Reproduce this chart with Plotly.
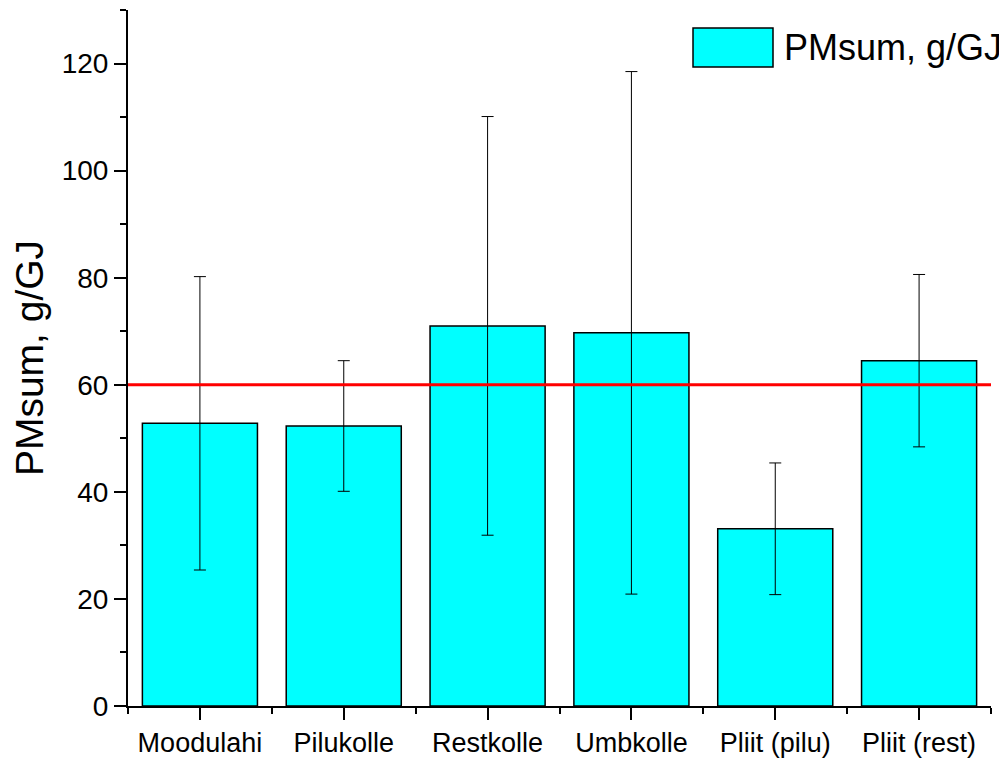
import plotly.graph_objects as go

categories = ["Moodulahi", "Pilukolle", "Restkolle", "Umbkolle", "Pliit (pilu)", "Pliit (rest)"]
pm_sum = [52.8, 52.3, 71.0, 69.7, 33.1, 64.5]
pm_err = [27.4, 12.2, 39.1, 48.8, 12.3, 16.1]
limit_value = 60
series_name = "PMsum, g/GJ"
y_ticks = [0, 20, 40, 60, 80, 100, 120]

FONT = "Arial, 'Liberation Sans', sans-serif"
x_idx = list(range(len(categories)))

fig = go.Figure()
fig.add_trace(go.Bar(
    x=x_idx, y=pm_sum, name=series_name, showlegend=False,
    marker=dict(color="#00FFFF", line=dict(color="black", width=1.5)),
    width=0.8,
    error_y=dict(type="data", array=pm_err, visible=True, color="black", thickness=1, width=6),
))

# limit line
fig.add_shape(type="line", xref="paper", x0=0, x1=1, yref="y", y0=limit_value, y1=limit_value,
              line=dict(color="#FF0000", width=3), layer="above")

# manual legend (box + text)
fig.add_shape(type="rect", xref="paper", yref="paper", x0=0.6547, x1=0.7474, y0=0.918, y1=0.974,
              fillcolor="#00FFFF", line=dict(color="black", width=1.5))
fig.add_annotation(xref="paper", yref="paper", x=0.758, y=0.946, xanchor="left", yanchor="middle",
                   text=series_name, showarrow=False, font=dict(family=FONT, size=36, color="black"))

# page body has an 8px margin, so the figure is sized to fit the window
fig.update_layout(
    width=999, height=750,
    margin=dict(l=120, r=16, t=2, b=52),
    paper_bgcolor="white", plot_bgcolor="white",
    font=dict(family=FONT, color="black"),
    bargap=0.2,
)
fig.update_xaxes(
    range=[-0.5, 5.5], tickmode="array", tickvals=x_idx, ticktext=categories,
    showline=True, linecolor="black", linewidth=2,
    ticks="outside", ticklen=12, tickwidth=2, tickcolor="black",
    tickfont=dict(family=FONT, size=27),
    minor=dict(tickmode="array", tickvals=[i - 0.5 for i in range(len(categories) + 1)],
               ticks="outside", ticklen=6, tickwidth=2, tickcolor="black"),
    showgrid=False, zeroline=False, automargin=False,
)
fig.update_yaxes(
    range=[0, 130], tickmode="array", tickvals=y_ticks,
    showline=True, linecolor="black", linewidth=2,
    ticks="outside", ticklen=12, tickwidth=2, tickcolor="black",
    tickfont=dict(family=FONT, size=28),
    minor=dict(tickmode="array", tickvals=[10, 30, 50, 70, 90, 110, 130],
               ticks="outside", ticklen=6, tickwidth=2, tickcolor="black"),
    title=dict(text=series_name, font=dict(family=FONT, size=39), standoff=10),
    showgrid=False, zeroline=False, automargin=False,
)

fig.write_html("out.html")
